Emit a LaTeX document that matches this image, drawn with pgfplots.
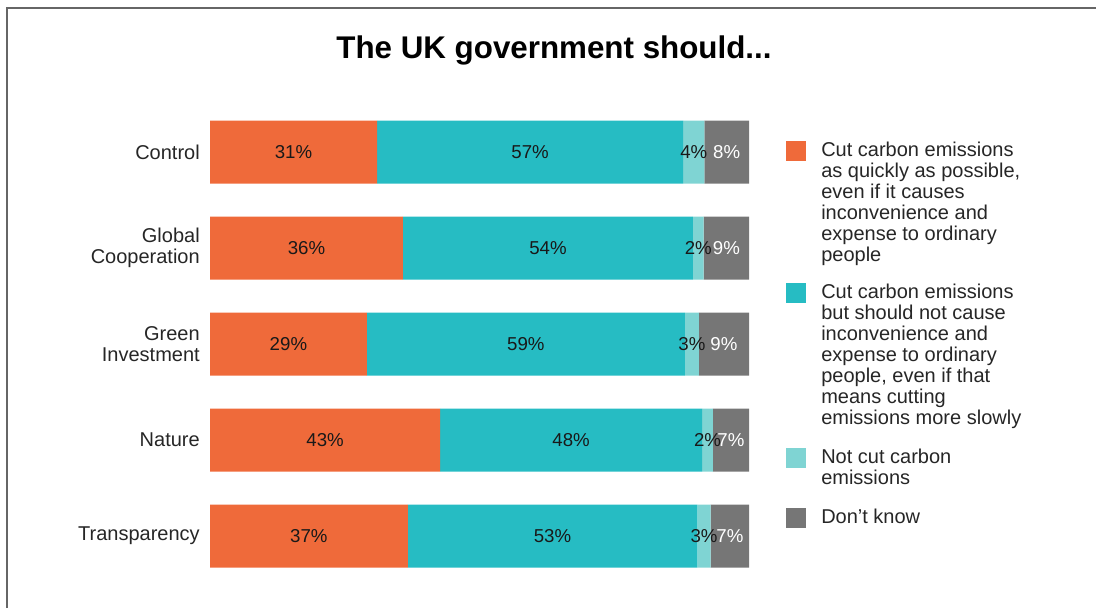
\documentclass[border=0pt]{standalone}
\usepackage{pgfplots}
\pgfplotsset{compat=1.18}
\usepackage{pgfplotstable}
\usepackage{fontspec}
\setmainfont{Liberation Sans}
\definecolor{corange}{HTML}{EF6A3A}
\definecolor{cteal}{HTML}{26BCC3}
\definecolor{clight}{HTML}{7FD4D3}
\definecolor{cgray}{HTML}{767676}
\definecolor{cframe}{HTML}{666666}

\pgfplotstableread{
y  a    b    c   d   la lb lc ld
0  31.0 56.8 3.9 8.3 31 57 4 8
1  35.8 53.8 2.0 8.4 36 54 2 9
2  29.1 59.0 2.6 9.3 29 59 3 9
3  42.7 48.6 2.0 6.7 43 48 2 7
4  36.7 53.7 2.5 7.1 37 53 3 7
}\datatable

\newcommand{\lgfont}{\fontsize{15}{15.75}\selectfont}
\newcommand{\lgentry}[3]{%
  \fill[#1] (589.5pt,#2) rectangle ++(15pt,-15pt);
  \node[anchor=base west, inner sep=0pt, text=black!85] at (615.75pt,#2-11.5pt)
    {\lgfont\begin{tabular}[t]{@{}l@{}}#3\end{tabular}};}

\begin{document}
\begin{tikzpicture}
\path[use as bounding box] (0,0) rectangle (822pt,-456pt);
\draw[cframe, line width=1.2pt] (5.25pt,-456pt) -- (5.25pt,-6pt) -- (822pt,-6pt);
\node[font=\fontsize{23.5}{27}\selectfont\bfseries] at (415.5pt,-38pt) {The UK government should...};

\begin{axis}[
  at={(157.5pt,-438pt)}, anchor=south west,
  scale only axis, width=404.25pt, height=360pt,
  xbar stacked, bar width=47.25pt,
  xmin=0, xmax=100, ymin=-0.5, ymax=4.5, y dir=reverse,
  axis line style={draw=none}, xtick=\empty,
  ytick={0,1,2,3,4},
  yticklabels={Control,{Global\\Cooperation},{Green\\Investment},Nature,Transparency},
  yticklabel style={align=right, font=\lgfont, inner xsep=0pt, xshift=-7.5pt, text=black!85},
  major tick length=0pt,
  clip=false,
]
\addplot[fill=corange, draw=none] table[x=a, y=y] {\datatable};
\addplot[fill=cteal, draw=none] table[x=b, y=y] {\datatable};
\addplot[fill=clight, draw=none] table[x=c, y=y] {\datatable};
\addplot[fill=cgray, draw=none] table[x=d, y=y] {\datatable};
\end{axis}

\begin{axis}[
  at={(157.5pt,-438pt)}, anchor=south west,
  scale only axis, width=404.25pt, height=360pt,
  xmin=0, xmax=100, ymin=-0.5, ymax=4.5, y dir=reverse,
  hide axis, clip=false,
  nodes near coords={\pgfplotspointmeta\%},
  point meta=explicit symbolic,
  every node near coord/.append style={anchor=center, font=\fontsize{14}{16}\selectfont, inner sep=0pt},
]
\addplot[draw=none, mark=none, every node near coord/.append style={text=black!90}]
  table[x expr=\thisrow{a}/2, y=y, meta=la] {\datatable};
\addplot[draw=none, mark=none, every node near coord/.append style={text=black!90}]
  table[x expr=\thisrow{a}+\thisrow{b}/2, y=y, meta=lb] {\datatable};
\addplot[draw=none, mark=none, every node near coord/.append style={text=black!90}]
  table[x expr=\thisrow{a}+\thisrow{b}+\thisrow{c}/2, y=y, meta=lc] {\datatable};
\addplot[draw=none, mark=none, every node near coord/.append style={text=white}]
  table[x expr=\thisrow{a}+\thisrow{b}+\thisrow{c}+\thisrow{d}/2, y=y, meta=ld] {\datatable};
\end{axis}

\lgentry{corange}{-105.75pt}{Cut carbon emissions\\as quickly as possible,\\even if it causes\\inconvenience and\\expense to ordinary\\people}
\lgentry{cteal}{-212.25pt}{Cut carbon emissions\\but should not cause\\inconvenience and\\expense to ordinary\\people, even if that\\means cutting\\emissions more slowly}
\lgentry{clight}{-336pt}{Not cut carbon\\emissions}
\lgentry{cgray}{-381pt}{Don't know}
\end{tikzpicture}
\end{document}
